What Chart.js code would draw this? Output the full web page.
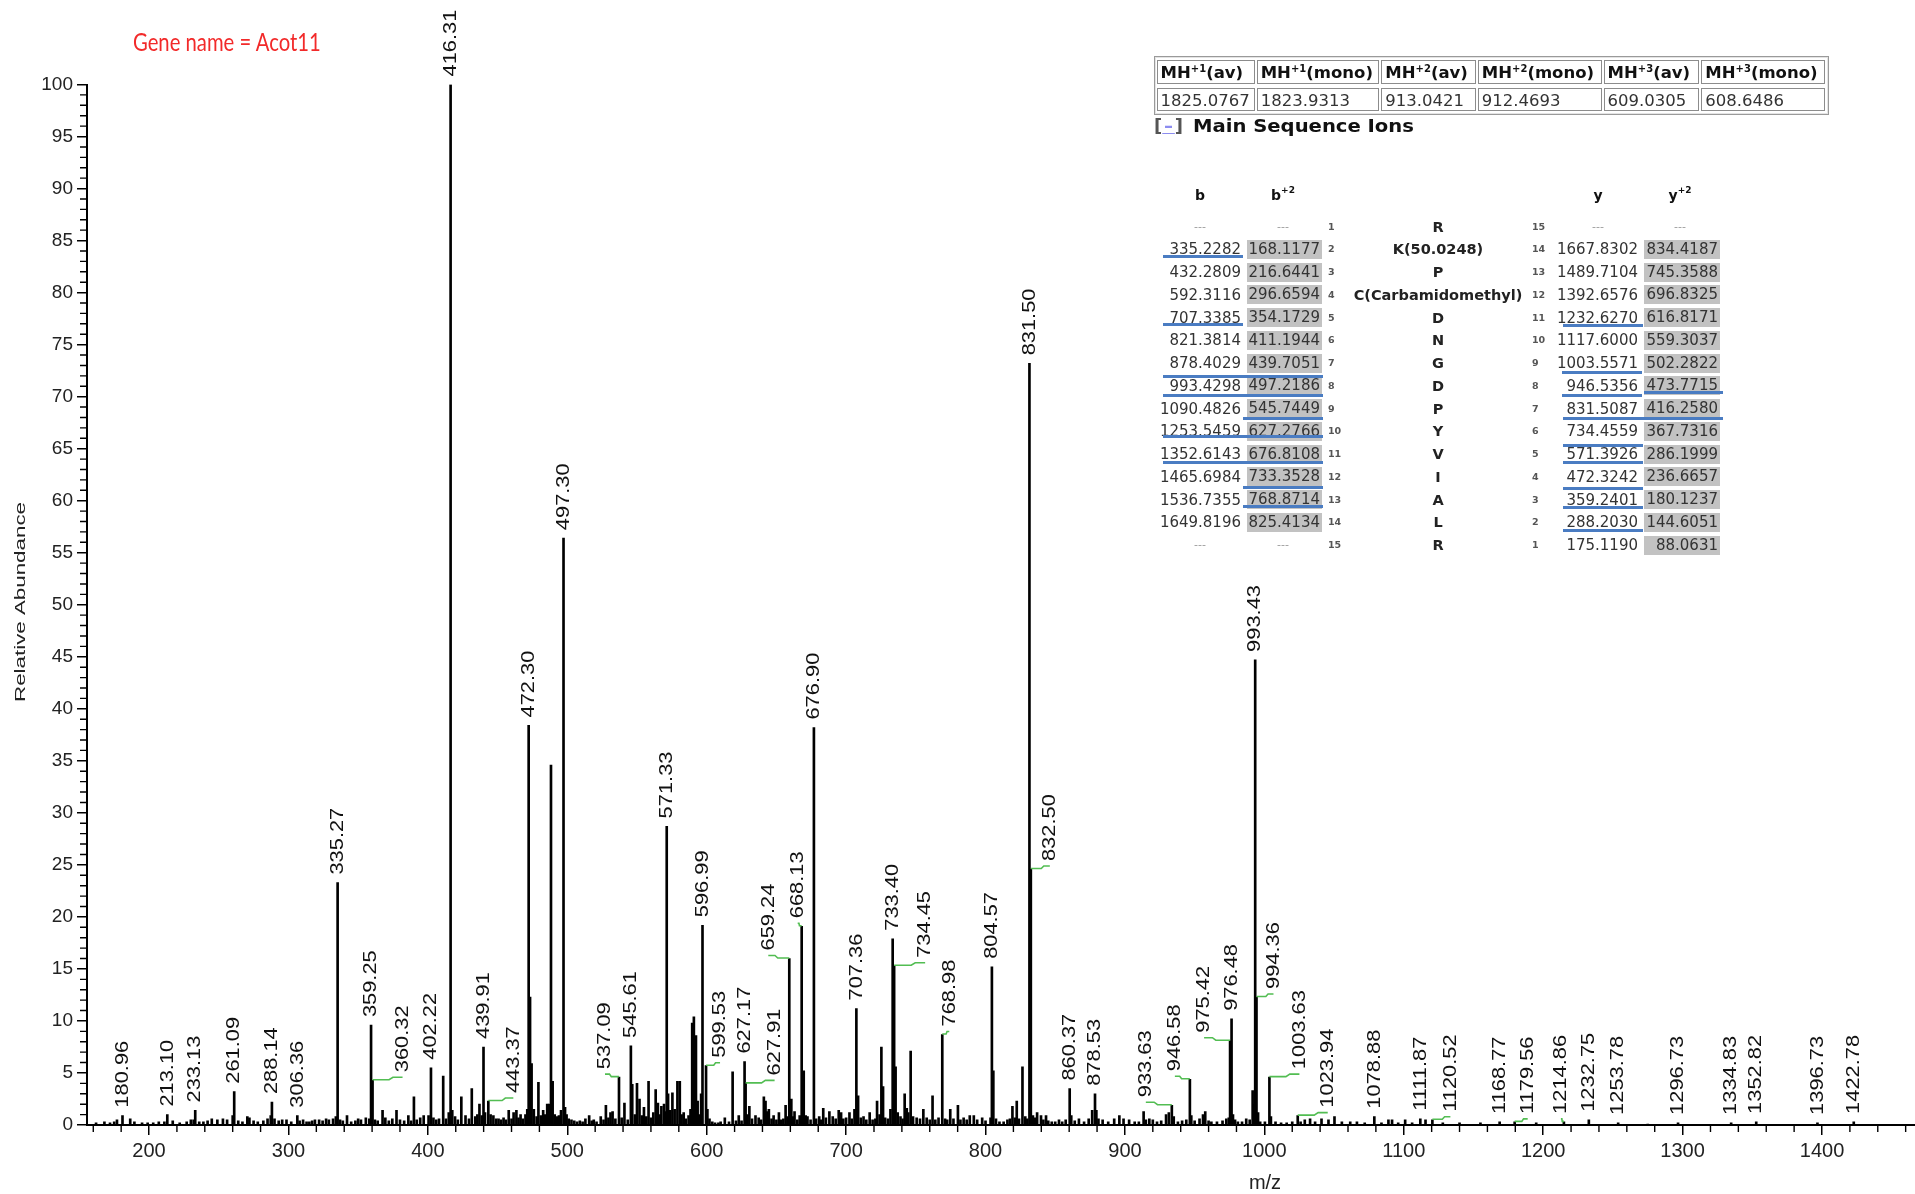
<!DOCTYPE html>
<html><head><meta charset="utf-8">
<script src="https://cdn.jsdelivr.net/npm/chart.js@4.4.1/dist/chart.umd.min.js"></script>
<style>
html,body{margin:0;padding:0;background:#fff;width:1915px;height:1194px;overflow:hidden;}
canvas{position:absolute;left:0;top:0;}
.abs{position:absolute;white-space:nowrap;}
.tb{font-family:"DejaVu Sans",Verdana,sans-serif;color:#333;}
.sup{font-size:10px;position:relative;top:-6px;}
</style></head><body>
<canvas id="c" width="1915" height="1194"></canvas>
<div id="gene" class="abs" style="left:133px;top:24px;font-family:Lato,'Open Sans',sans-serif;font-size:25px;line-height:34px;color:#f22a2a;transform-origin:0 50%;">Gene name = Acot11</div>
<div id="tables"></div>
<script>
// ===== DATA =====
const xTitle = 'm/z';
const yTitle = 'Relative Abundance';
const geneName = 'Gene name = Acot11';
// spectrum peaks: [m/z, relative abundance]
const peaks = [
[162,0.2],[168,0.3],[172,0.2],[175,0.3],[177,0.5],[180.96,0.9],[186.5,0.6],[189.5,0.3],[195,0.2],[199,0.2],
[203,0.2],[207,0.3],[211,0.3],[213.10,1.0],[217,0.4],[222,0.2],[227,0.3],[230,0.5],[232,0.5],[233.13,1.4],
[236,0.3],[239,0.3],[242,0.4],[245,0.6],[249,0.5],[253,0.6],[256,0.5],[260,0.9],[261.09,3.2],[264,0.4],
[267,0.3],[270.5,0.8],[272,0.7],[275,0.4],[278,0.3],[282,0.4],[285,0.6],[287.3,0.9],[288.14,2.2],[290,0.6],
[293,0.4],[295.5,0.5],[298.6,0.5],[302,0.3],[306.36,0.9],[308,0.4],[310.5,0.5],[313,0.3],[315,0.3],[317,0.4],
[319,0.5],[322,0.5],[324.5,0.4],[327,0.6],[329,0.5],[332,0.6],[334,0.8],[335.27,23.3],[337,0.5],[339,0.4],
[342,0.9],[345,0.3],[348,0.4],[350,0.6],[352,0.5],[355.5,0.7],[358,0.6],[359.25,9.6],[360.32,4.3],[362,0.5],
[364,0.4],[367.5,1.4],[369.5,0.7],[372,0.4],[374.5,0.6],[377.5,1.4],[380,0.5],[383,0.4],[386,0.9],[388,0.4],
[390,2.7],[392,0.5],[394.5,0.7],[397,0.9],[400.5,0.9],[402.22,5.5],[404,0.7],[406,0.5],[408,0.6],[411,4.7],
[413,0.6],[415,1.2],[416.31,100],[417.5,1.4],[419.5,0.8],[421.5,0.5],[424,2.7],[427,0.9],[429.5,0.6],[431.5,3.5],
[434,0.8],[435.5,1.0],[437,2.0],[438.7,0.9],[439.91,7.5],[441,1.2],[443.37,2.3],[445,1.0],[447,0.9],[449,0.6],
[450.7,0.6],[452.5,0.5],[454.3,0.7],[456,0.5],[458,1.4],[460,0.6],[461.5,1.2],[463.5,1.4],[465,0.7],[466.5,1.0],
[468,0.6],[470,1.0],[471.3,1.5],[472.30,38.4],[473.3,12.3],[474.4,5.9],[476,1.5],[478,0.8],[479.3,4.1],[481,0.9],
[482.7,1.4],[484,1.0],[485.6,2.0],[487,2.0],[488.31,34.6],[489.5,4.2],[491,1.0],[492.5,0.8],[494,0.9],[495.5,1.4],
[497.30,56.4],[498.4,1.7],[499.5,1.0],[501,0.6],[503,0.5],[505,0.4],[507,0.3],[509,0.4],[511,0.3],[513,0.6],
[515.7,0.9],[517.5,0.4],[519,0.5],[521,0.3],[524,0.8],[526,0.5],[527.7,1.9],[529.5,0.7],[531,1.2],[532.5,1.3],
[534.5,0.6],[537.09,4.6],[539,0.7],[541,2.1],[543.4,0.5],[545.61,7.6],[546.6,3.9],[548.5,1.0],[550,4.0],[551.8,2.5],
[553.5,0.9],[555,1.7],[556.7,0.8],[558.3,4.2],[560,0.7],[561.7,1.2],[563.4,3.4],[565,2.1],[566.3,1.0],[567.5,1.8],
[569.4,2.0],[570.3,1.3],[571.33,28.7],[572.3,3.0],[573.8,1.4],[575.4,3.1],[577,1.5],[579,4.2],[580.7,4.2],[582,1.0],
[583.5,1.2],[585,0.6],[587,0.9],[588.4,1.5],[589.6,9.8],[590.8,10.4],[592.3,8.6],[593.5,2.3],[594.7,1.0],[596,3.0],
[596.99,19.2],[599.53,5.7],[600.5,1.5],[602,0.6],[604,0.3],[606,0.2],[608.4,0.2],[610,0.3],[613,0.7],[616,0.3],
[618.6,5.1],[621,0.4],[623,0.9],[625,0.4],[627.17,6.1],[627.91,4.0],[629,1.0],[630.6,1.8],[632.5,0.6],[635,0.9],
[637.3,0.7],[639,0.5],[641,2.7],[642.2,2.3],[643.5,1.3],[644.6,1.5],[646.5,0.6],[648,0.9],[650,0.5],[651.8,1.2],
[653.5,0.5],[655,0.6],[656.6,1.9],[658,0.8],[659.24,16.0],[660.7,2.5],[662,0.8],[663,1.3],[665,0.5],[666.7,0.9],
[668.13,19.1],[669.6,5.2],[671,0.9],[672.3,0.8],[674.5,0.5],[676.90,38.2],[678.5,0.6],[680.7,0.8],[682,0.5],[683.6,1.6],
[685.5,0.7],[688,1.3],[690.4,0.8],[692.5,0.6],[694.7,1.4],[696.4,1.2],[698,0.6],[700,0.7],[702.4,1.2],[704,0.6],
[706,1.5],[707.36,11.2],[708.6,2.8],[710.5,0.7],[712.5,0.8],[714.5,0.5],[716.9,1.2],[719,0.5],[721,0.6],[722.2,2.3],
[724,1.0],[725.3,7.5],[726.5,3.7],[728,0.7],[730,0.6],[731.8,1.5],[733.40,17.9],[734.45,15.3],[735.5,5.6],[737,1.2],
[739,0.8],[740.5,0.6],[742,3.0],[743.5,1.6],[744.6,1.2],[746.3,7.1],[748,0.8],[750.6,0.7],[753,0.6],[755.4,1.5],
[757.8,0.7],[760,0.5],[762,2.8],[764,0.5],[766.3,0.7],[768.98,8.7],[771,0.6],[772.5,0.5],[774.7,1.5],[777,0.6],
[780.2,1.9],[782,0.5],[784.3,0.7],[786.5,0.5],[788.7,0.9],[791.6,0.9],[794,0.5],[797.6,0.7],[800,0.4],[803.6,0.7],
[804.57,15.2],[805.6,5.2],[807.5,0.6],[810,0.3],[813,0.3],[815.7,0.5],[817.5,0.6],[819.3,1.8],[821,0.7],[822.4,2.3],
[824,0.6],[826.5,5.6],[828.5,0.8],[830,0.6],[831.50,73.2],[832.50,24.6],[834,0.9],[835.5,0.7],[837,1.2],[839.8,0.9],
[841.5,0.5],[843.4,0.9],[845,0.4],[847.5,0.3],[850,0.3],[852.7,0.5],[855,0.3],[857.5,0.5],[860.37,3.5],[861.5,0.9],
[864,0.4],[867,0.6],[870.7,0.3],[874,0.6],[876.5,1.4],[878.53,3.0],[879.5,1.4],[881,0.6],[884,0.5],[888,0.3],
[892.3,0.6],[896,0.9],[899,0.6],[903,0.5],[907,0.3],[910,0.3],[913.4,1.3],[915,0.5],[917.5,0.6],[920,0.5],
[923,0.3],[926,0.4],[929.5,1.0],[931.5,1.2],[933.63,1.9],[935,0.8],[938,0.3],[941,0.4],[944,0.5],[946.58,4.4],
[947.6,0.9],[950,0.4],[953.5,0.6],[956,1.0],[957.6,1.3],[960,0.4],[962,0.3],[966,0.3],[970,0.4],[972.7,0.6],
[974.5,0.7],[975.42,8.1],[976.48,10.2],[977.5,1.0],[979,0.5],[981,0.3],[984,0.3],[987,0.6],[989.5,0.5],[991.6,3.3],
[992.5,2.0],[993.43,44.7],[994.36,12.3],[995.5,1.2],[997,0.3],[1000.4,0.3],[1003.63,4.6],[1004.7,0.8],[1008,0.3],[1012,0.2],
[1016,0.2],[1020,0.3],[1023.94,0.9],[1026,0.3],[1029,0.5],[1032.8,0.6],[1036.4,0.3],[1041,0.6],[1046,0.5],[1050.3,0.8],
[1055.6,0.3],[1061.6,0.3],[1066.4,0.3],[1072,0.2],[1078.88,0.8],[1084,0.2],[1089,0.5],[1091.6,0.5],[1096,0.2],[1101,0.5],
[1106,0.2],[1111.87,0.6],[1115.6,0.5],[1120.52,0.5],[1128,0.2],[1140,0.2],[1155,0.2],[1168.77,0.3],[1179.56,0.3],[1195,0.2],
[1214.86,0.3],[1232.75,0.5],[1253.78,0.2],[1275,0.1],[1296.73,0.2],[1334.83,0.2],[1352.82,0.3],[1396.73,0.2],[1422.78,0.3]
];
// labelled peaks (m/z)
const labelMz = [180.96,213.10,233.13,261.09,288.14,306.36,335.27,359.25,360.32,402.22,416.31,439.91,443.37,472.30,497.30,
537.09,545.61,571.33,596.99,599.53,627.17,627.91,659.24,668.13,676.90,707.36,733.40,734.45,768.98,804.57,831.50,832.50,
860.37,878.53,933.63,946.58,975.42,976.48,993.43,994.36,1003.63,1023.94,1078.88,1111.87,1120.52,1168.77,1179.56,1214.86,
1232.75,1253.78,1296.73,1334.83,1352.82,1396.73,1422.78];
const xTicksMajor = [200,300,400,500,600,700,800,900,1000,1100,1200,1300,1400];
const yTicksMajor = [0,5,10,15,20,25,30,35,40,45,50,55,60,65,70,75,80,85,90,95,100];

// precursor table
const mhHeads = [['MH','+1','(av)'],['MH','+1','(mono)'],['MH','+2','(av)'],['MH','+2','(mono)'],['MH','+3','(av)'],['MH','+3','(mono)']];
const mhValues = ['1825.0767','1823.9313','913.0421','912.4693','609.0305','608.6486'];
// fragment ion table
const residues = ['R','K(50.0248)','P','C(Carbamidomethyl)','D','N','G','D','P','Y','V','I','A','L','R'];
const bIons  = [null,335.2282,432.2809,592.3116,707.3385,821.3814,878.4029,993.4298,1090.4826,1253.5459,1352.6143,1465.6984,1536.7355,1649.8196,null];
const b2Ions = [null,168.1177,216.6441,296.6594,354.1729,411.1944,439.7051,497.2186,545.7449,627.2766,676.8108,733.3528,768.8714,825.4134,null];
const yIons  = [null,1667.8302,1489.7104,1392.6576,1232.6270,1117.6000,1003.5571,946.5356,831.5087,734.4559,571.3926,472.3242,359.2401,288.2030,175.1190];
const y2Ions = [null,834.4187,745.3588,696.8325,616.8171,559.3037,502.2822,473.7715,416.2580,367.7316,286.1999,236.6657,180.1237,144.6051,88.0631];

// ===== LAYOUT (pixel styling, not data) =====
const labelShift = {'360.32':30,'443.37':25,'537.09':-14,'599.53':14,'627.91':29,'659.24':-21,'668.13':-4,'734.45':31,
 '768.98':7,'832.50':19,'933.63':-26,'946.58':-15,'975.42':-26,'994.36':17,'1003.63':30,'1023.94':30,'1120.52':18,
 '1179.56':13,'1214.86':-3};
const blueLines = [[1163,1243,256],[1163,1243,324],[1163,1323,376.7],[1163,1323,395.7],[1243,1323,418.3],[1163,1323,436.7],
 [1163,1323,462.7],[1243,1323,487.7],[1243,1323,506.7],
 [1563,1643,325],[1562,1642,372.3],[1562,1642,395.7],[1644,1723,392.7],[1563,1723,418.3],[1563,1643,445],[1563,1643,462.7],
 [1563,1643,488.3],[1563,1643,507.3],[1563,1643,530.7]];

// ===== CHART =====
const FONT = '"Liberation Sans", Arial, sans-serif';
const decor = {
  id:'decor',
  afterDraw(chart){
    const {ctx, chartArea:ca, scales:{x, y}} = chart;
    ctx.save();
    ctx.strokeStyle='#000'; ctx.lineWidth=1.4;
    ctx.beginPath();
    for(let v=0; v<=100; v++){
      if(v%5===0) continue;
      const py=y.getPixelForValue(v);
      ctx.moveTo(ca.left-7,py); ctx.lineTo(ca.left,py);
    }
    for(let v=160; v<x.max; v+=20){
      if(v%100===0) continue;
      const px=x.getPixelForValue(v);
      ctx.moveTo(px,ca.bottom); ctx.lineTo(px,ca.bottom+7);
    }
    ctx.stroke();
    // axis titles
    ctx.fillStyle='#222';
    ctx.font='15.5px '+FONT; ctx.textAlign='center'; ctx.textBaseline='middle';
    const w=ctx.measureText(yTitle).width;
    ctx.save(); ctx.translate(21,602); ctx.rotate(-Math.PI/2); ctx.scale(200/w,1); ctx.fillText(yTitle,0,0); ctx.restore();
    ctx.font='20px '+FONT;
    ctx.fillText(xTitle, 1265, 1183);
    ctx.restore();
  },
  afterDatasetsDraw(chart){
    const {ctx, scales:{x, y}} = chart;
    ctx.save();
    labelMz.forEach(m=>{
      const p=peaks.find(q=>Math.abs(q[0]-m)<1e-6);
      if(!p) return;
      const txt=m.toFixed(2);
      const px=x.getPixelForValue(m), py=y.getPixelForValue(p[1]);
      const d=labelShift[txt]||0;
      let lx=px, base=py-8;
      if(d){
        const y2=py-3;
        ctx.strokeStyle='#52bd52'; ctx.lineWidth=1.6;
        ctx.beginPath();
        ctx.moveTo(px,py-0.5); ctx.lineTo(px+d*0.55,py-0.5); ctx.lineTo(px+d*0.68,y2); ctx.lineTo(px+d,y2);
        ctx.stroke();
        lx=px+d; base=y2-5;
      }
      ctx.save(); ctx.translate(lx,base); ctx.rotate(-Math.PI/2); ctx.scale(1.15,1);
      ctx.font='19px '+FONT; ctx.fillStyle='#111'; ctx.textAlign='left'; ctx.textBaseline='middle';
      ctx.fillText(txt,0,0); ctx.restore();
    });
    ctx.restore();
  }
};

new Chart(document.getElementById('c'), {
  type:'bar',
  data:{datasets:[{data:peaks.map(p=>({x:p[0],y:p[1]})), backgroundColor:'#000', borderWidth:0, barThickness:2, grouped:false}]},
  options:{
    responsive:false, animation:false, devicePixelRatio:1,
    layout:{padding:{top:84.5,left:0,right:0,bottom:0}},
    plugins:{legend:{display:false}, tooltip:{enabled:false}, title:{display:false}},
    scales:{
      x:{type:'linear', min:155.5, max:1466.7, offset:false,
        grid:{display:true, drawOnChartArea:false, offset:false, tickLength:10, color:'#000', lineWidth:1.5},
        border:{display:true, color:'#000', width:2},
        afterBuildTicks:s=>{ s.ticks = xTicksMajor.map(v=>({value:v})); },
        afterFit:s=>{ s.height=69; },
        ticks:{font:{family:FONT,size:20}, color:'#222', padding:4, maxRotation:0, autoSkip:false, callback:v=>String(v)}},
      y:{type:'linear', min:0, max:100,
        grid:{display:true, drawOnChartArea:false, tickLength:10, color:'#000', lineWidth:1.5},
        border:{display:true, color:'#000', width:2},
        afterBuildTicks:s=>{ s.ticks = yTicksMajor.map(v=>({value:v})); },
        afterFit:s=>{ s.width=87; },
        ticks:{font:{family:FONT,size:19}, color:'#222', padding:4, autoSkip:false, callback:v=>String(v)}}
    }
  },
  plugins:[decor]
});

// ===== TABLES (HTML text) =====
const T=document.getElementById('tables');
function add(html, st, cls){ const d=document.createElement('div'); d.className='abs '+(cls||''); d.innerHTML=html; Object.assign(d.style, st); T.appendChild(d); return d; }
// precursor table
add('', {left:'1154px',top:'55.5px',width:'673px',height:'57px',border:'1px solid #9a9a9a',boxShadow:'inset 0 0 0 1px #e4e4e4'});
const colB=[1156.6,1256.7,1381.3,1477.8,1603.6,1701.3,1827];
mhHeads.forEach((h,i)=>{
  const L=colB[i], W=colB[i+1]-colB[i]-2;
  add(h[0]+'<span class="sup">'+h[1]+'</span>'+h[2], {left:L+'px',top:'60px',width:(W-6)+'px',height:'22px',lineHeight:'24px',border:'1px solid #8c8c8c',paddingLeft:'3px',paddingRight:'1px',fontWeight:'bold',fontSize:'16.5px',color:'#111'}, 'tb');
  add(mhValues[i], {left:L+'px',top:'88px',width:(W-6)+'px',height:'21px',lineHeight:'23px',border:'1px solid #8c8c8c',paddingLeft:'3px',paddingRight:'1px',fontSize:'16.5px',color:'#333'}, 'tb');
});
add('<span style="color:#555">[</span><span style="color:#8c8cf0;text-decoration:underline">&#8202;&ndash;&#8202;</span><span style="color:#555">]</span>', {left:'1154px',top:'114px',fontSize:'18px',lineHeight:'24px',fontWeight:'bold'}, 'tb');
const msi = add('Main Sequence Ions', {left:'1193px',top:'114px',fontSize:'18px',lineHeight:'24px',fontWeight:'bold',color:'#111',transformOrigin:'0 50%'}, 'tb');
// fragment headers
const hdr=[['b',1200],['b<span class="sup" style="font-size:9px;top:-7px">+2</span>',1283],['y',1598],['y<span class="sup" style="font-size:9px;top:-7px">+2</span>',1680]];
hdr.forEach(h=>add(h[0],{left:(h[1]-40)+'px',top:'184px',width:'80px',textAlign:'center',fontSize:'14px',lineHeight:'22px',fontWeight:'bold',color:'#111'},'tb'));
const rowY=r=>226.7+r*22.74;
const fmt=v=>v==null?null:v.toFixed(4);
const dash=(cx,r)=>add('---',{left:(cx-40)+'px',top:(rowY(r)-11)+'px',width:'80px',textAlign:'center',fontSize:'11px',lineHeight:'22px',color:'#999'},'tb');
residues.forEach((res,r)=>{
  const cy=rowY(r);
  if(bIons[r]==null) dash(1200,r);
  else add(fmt(bIons[r]),{left:'1101px',top:(cy-11)+'px',width:'140px',textAlign:'right',fontSize:'15px',lineHeight:'22px'},'tb');
  if(b2Ions[r]==null) dash(1283,r);
  else add(fmt(b2Ions[r]),{left:'1247px',top:(cy-9.5)+'px',width:'73px',height:'19px',paddingRight:'2px',background:'#c2c2c2',textAlign:'right',fontSize:'15px',lineHeight:'19px'},'tb');
  add(String(r+1),{left:'1328px',top:(cy-11)+'px',fontSize:'9.5px',lineHeight:'22px',fontWeight:'bold',color:'#555'},'tb');
  add(res,{left:'1338px',top:(cy-11)+'px',width:'200px',textAlign:'center',fontSize:'14.5px',lineHeight:'22px',fontWeight:'bold',color:'#222'},'tb');
  add(String(residues.length-r),{left:'1532px',top:(cy-11)+'px',fontSize:'9.5px',lineHeight:'22px',fontWeight:'bold',color:'#555'},'tb');
  if(yIons[r]==null) dash(1598,r);
  else add(fmt(yIons[r]),{left:'1498px',top:(cy-11)+'px',width:'140px',textAlign:'right',fontSize:'15px',lineHeight:'22px'},'tb');
  if(y2Ions[r]==null) dash(1680,r);
  else add(fmt(y2Ions[r]),{left:'1644px',top:(cy-9.5)+'px',width:'74px',height:'19px',paddingRight:'2px',background:'#c2c2c2',textAlign:'right',fontSize:'15px',lineHeight:'19px'},'tb');
});
blueLines.forEach(l=>add('',{left:l[0]+'px',top:(l[2]-1.5)+'px',width:(l[1]-l[0])+'px',height:'3px',background:'#4a7cc2'}));
// fit title widths
const g=document.getElementById('gene'); g.textContent=geneName;
g.style.transform='scaleX('+(188/g.offsetWidth)+')';
msi.style.transform='scaleX('+(221/msi.offsetWidth)+')';
</script>
</body></html>
